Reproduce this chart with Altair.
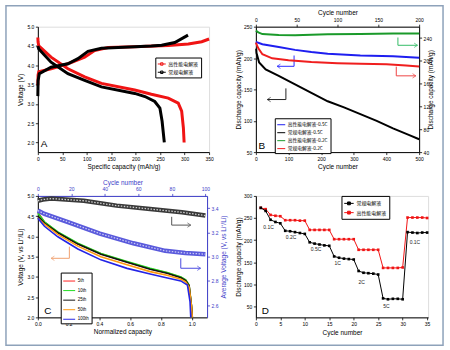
import altair as alt
import pandas as pd

FONT = "Liberation Sans"
CJK = "Noto Sans CJK SC"

# ---------------- Panel A : charge / discharge profiles ----------------
a_names = ["高性能电解液", "常规电解液"]
a_colors = ["#f01414", "#000000"]
a_red_chg_cap = [0, 0.5, 2, 27, 61.5, 95.7, 116, 143.6, 198, 266.6, 307.6, 335, 350]
a_red_chg_v = [3.48, 3.75, 3.83, 3.91, 4.04, 4.21, 4.38, 4.46, 4.48, 4.51, 4.55, 4.61, 4.68]
a_red_dis_cap = [0, 0.5, 2, 27, 61.5, 95.7, 130, 198, 232, 266.6, 287, 294, 297.5, 299]
a_red_dis_v = [4.72, 4.6, 4.5, 4.21, 3.91, 3.70, 3.53, 3.36, 3.25, 3.15, 3.02, 2.81, 2.38, 2.0]
a_blk_chg_cap = [0, 0.5, 3, 27, 61.5, 82, 102.5, 130, 198, 232, 253, 280, 307]
a_blk_chg_v = [3.2, 3.6, 3.78, 3.95, 4.04, 4.17, 4.36, 4.44, 4.48, 4.5, 4.52, 4.59, 4.78]
a_blk_dis_cap = [0, 2, 27, 61.5, 95.7, 130, 198, 219, 239, 249.5, 254, 258.5]
a_blk_dis_v = [4.5, 4.42, 4.08, 3.78, 3.61, 3.44, 3.27, 3.19, 3.06, 2.89, 2.55, 2.0]

# ---------------- Panel B : cycling ----------------
b_names = ["高性能电解液-0.5C", "常规电解液-0.5C", "高性能电解液-0.2C", "常规电解液-0.2C"]
b_colors = ["#1e1ef0", "#000000", "#1a9a2a", "#f01e1e"]
b_blue_cyc = [0, 20, 70, 120, 170, 220, 320, 420, 500]
b_blue_cap = [225.7, 222, 217.6, 213, 209.5, 206.8, 204, 203, 200.5]
b_black_cyc = [1, 2, 10, 30, 70, 120, 170, 220, 270, 320, 370, 420, 470, 500]
b_black_cap = [215, 208, 193, 182, 171.6, 158, 144.6, 131, 121.4, 110.5, 99.7, 87.8, 77, 70.5]
b_green_cyc = [0, 3, 8, 28, 48, 88, 128, 168, 200]
b_green_cap = [253, 250, 247, 245.3, 245, 246.5, 247, 248, 248]
b_red_cyc = [0, 3, 8, 20, 40, 68, 100, 128, 160, 184, 200]
b_red_cap = [232, 222, 211.6, 204.5, 201, 198, 196, 195, 194, 192, 190]
b_arrow_x = [[117, 117, 65], [92, 92, 35], [435, 435, 495], [430, 430, 490]]
b_arrow_y = [[204, 186.8, 186.8], [151.6, 133.8, 133.8], [232.7, 220.3, 220.3], [186.2, 171.6, 171.6]]
b_arrow_col = ["#2a2aff", "#222222", "#33bb66", "#ee4444"]
b_arrow_dir = ["left", "left", "right", "right"]

# ---------------- Panel C : discharge curves + average voltage ----------------
c_names = ["5th", "10th", "25th", "50th", "100th"]
c_colors = ["#ff2020", "#22dd22", "#111111", "#ff9a10", "#2424e6"]
c_x_std = [0, 0.043, 0.13, 0.26, 0.41, 0.58, 0.73, 0.84, 0.93, 0.961, 0.983, 0.998, 1.004]
c_5th = [4.6, 4.35, 4.10, 3.82, 3.57, 3.37, 3.20, 3.10, 2.99, 2.92, 2.79, 2.30, 2.0]
c_10th = [4.57, 4.36, 4.11, 3.83, 3.58, 3.38, 3.21, 3.11, 3.0, 2.93, 2.80, 2.31, 2.0]
c_25th = [4.5, 4.33, 4.09, 3.81, 3.56, 3.36, 3.19, 3.09, 2.98, 2.91, 2.78, 2.30, 2.0]
c_50th = [4.45, 4.3, 4.05, 3.76, 3.50, 3.30, 3.13, 3.04, 2.94, 2.88, 2.75, 2.30, 2.0]
c_x_100 = [0, 0.043, 0.13, 0.26, 0.41, 0.58, 0.73, 0.842, 0.929, 0.972, 0.989, 0.994]
c_100th = [4.45, 4.25, 3.99, 3.69, 3.42, 3.21, 3.07, 2.97, 2.90, 2.80, 2.39, 2.0]
c_avg_blk_cyc = [0, 3, 8, 27.5, 47, 67, 86, 100]
c_avg_blk_v = [3.46, 3.47, 3.478, 3.46, 3.42, 3.392, 3.365, 3.338]
c_avg_blu_cyc = [0, 4, 18, 37, 57, 76, 88, 100]
c_avg_blu_v = [3.379, 3.352, 3.285, 3.19, 3.11, 3.048, 3.03, 3.02]
c_arrow_x = [[0.87, 0.87, 0.994], [0.929, 0.929, 1.058], [0.205, 0.205, 0.086]]
c_arrow_y = [[4.484, 4.279, 4.279], [3.459, 3.213, 3.213], [3.746, 3.459, 3.459]]
c_arrow_col = ["#555555", "#4a4ae0", "#f0a070"]
c_arrow_dir = ["right", "right", "left"]

# ---------------- Panel D : rate capability ----------------
d_names = ["常规电解液", "高性能电解液"]
d_colors = ["#000000", "#f01414"]
d_cycles = list(range(1, 36))
d_black = [273, 266, 246, 241, 238, 221, 220, 218, 216, 214, 195, 192, 190, 188, 187,
           163, 160, 158, 157, 156, 130, 126, 125, 124, 122, 68, 66, 67, 67, 66,
           218, 217, 216, 217, 217]
d_red = [273, 270, 257, 255, 254, 245, 245, 245, 244, 244, 223, 223, 223, 223, 223,
         202, 202, 202, 202, 202, 178, 178, 178, 178, 178, 137, 137, 137, 137, 138,
         251, 251, 251, 251, 250]
d_rate_text = ["0.1C", "0.2C", "0.5C", "1C", "2C", "5C", "0.1C"]
d_rate_x = [2.6, 7.2, 12.3, 16.7, 21.6, 26.7, 32.5]
d_rate_y = [229, 206, 180, 147, 105, 51.5, 195.5]

LEFT_HEAD = "M 0 0 L 1 -0.65 M 0 0 L 1 0.65"
RIGHT_HEAD = "M 0 0 L -1 -0.65 M 0 0 L -1 0.65"
LEG_SYM = "M -1 0 L 1 0 M -0.3 -0.3 L 0.3 -0.3 L 0.3 0.3 L -0.3 0.3 Z"
LEG_LINE = "M -1 0 L 1 0"


def axis(orient, values, title, fmt=None, color="black", tpad=2, angle=None):
    kw = dict(orient=orient, values=values, title=title, domainColor=color, tickColor=color,
              labelColor=color, titleColor=color, labelFont=FONT, titleFont=FONT,
              labelFontSize=5, titleFontSize=6.5, titleFontWeight="normal", tickSize=2.5,
              tickWidth=0.8, domainWidth=1, labelPadding=1.5, titlePadding=tpad, grid=False,
              labelOverlap=False, labelFlush=False)
    if fmt:
        kw["format"] = fmt
    if angle is not None:
        kw["titleAngle"] = angle
    return alt.Axis(**kw)


def seq(xs, ys, name, part):
    return pd.DataFrame({"x": xs, "y": ys, "s": name, "part": part, "i": list(range(len(xs)))})


def legend(x, y, sym=LEG_LINE, size=60, fs=5, font=CJK, rowpad=0.3):
    return alt.Legend(orient="none", legendX=x, legendY=y, title=None, symbolType=sym,
                      symbolSize=size, symbolStrokeWidth=1, labelFontSize=fs, labelFont=font,
                      strokeColor="black", fillColor="white", padding=2, rowPadding=rowpad,
                      labelOffset=2, labelLimit=200)


def arrows(xs_list, ys_list, cols, dirs, ex, ey):
    rows, heads = [], []
    for k, (xs, ys, c, d) in enumerate(zip(xs_list, ys_list, cols, dirs)):
        for i, (x, y) in enumerate(zip(xs, ys)):
            rows.append({"x": x, "y": y, "id": k, "i": i, "c": c})
        heads.append({"x": xs[-1], "y": ys[-1], "c": c,
                      "shp": LEFT_HEAD if d == "left" else RIGHT_HEAD})
    ln = alt.Chart(pd.DataFrame(rows)).mark_line(strokeWidth=1).encode(
        x=ex, y=ey, detail="id:N", order="i:Q", stroke=alt.Stroke("c:N", scale=None))
    hd = alt.Chart(pd.DataFrame(heads)).mark_point(filled=False, size=45, strokeWidth=1).encode(
        x=ex, y=ey, stroke=alt.Stroke("c:N", scale=None), shape=alt.Shape("shp:N", scale=None))
    return [ln, hd]


def label(ch, x, y, ex, ey, fs=10):
    return alt.Chart(pd.DataFrame({"x": [x], "y": [y], "t": [ch]})).mark_text(
        align="left", baseline="middle", fontSize=fs, font=FONT, color="black").encode(
        x=ex, y=ey, text="t:N")


# ====== Panel A ======
a_df = pd.concat([
    seq(a_red_chg_cap, a_red_chg_v, a_names[0], "rc"),
    seq(a_red_dis_cap, a_red_dis_v, a_names[0], "rd"),
    seq(a_blk_chg_cap, a_blk_chg_v, a_names[1], "bc"),
    seq(a_blk_dis_cap, a_blk_dis_v, a_names[1], "bd"),
])
xa = alt.X("x:Q", scale=alt.Scale(domain=[0, 350], nice=False, zero=False),
           axis=axis("bottom", list(range(0, 351, 50)), "Specific capacity (mAh/g)", tpad=2))
ya = alt.Y("y:Q", scale=alt.Scale(domain=[1.75, 5.0], nice=False, zero=False),
           axis=axis("left", [2.0, 2.5, 3.0, 3.5, 4.0, 4.5, 5.0], "Voltage (V)", fmt=".1f", tpad=3))
ca = alt.Color("s:N", scale=alt.Scale(domain=a_names, range=a_colors),
               legend=legend(118, 31, sym=LEG_SYM, size=64))
a_red = alt.Chart(a_df).transform_filter(alt.datum.s == a_names[0]).mark_line(strokeWidth=3).encode(
    x=xa, y=ya, color=ca, detail="part:N", order="i:Q")
a_blk = alt.Chart(a_df).transform_filter(alt.datum.s == a_names[1]).mark_line(strokeWidth=3).encode(
    x=xa, y=ya, color=ca, detail="part:N", order="i:Q")
frame = alt.Chart(pd.DataFrame({"k": [0]})).mark_rect(
    fillOpacity=0, stroke="#8ea2ba", strokeWidth=1.5).encode(
    x=alt.value(-32), x2=alt.value(407), y=alt.value(-21), y2=alt.value(320))
panel_a = alt.layer(a_red, a_blk, label("A", 6, 1.95, xa, ya), frame).properties(width=172, height=126)

# ====== Panel B ======
xb = alt.X("x:Q", scale=alt.Scale(domain=[0, 500], nice=False, zero=False),
           axis=axis("bottom", list(range(0, 501, 100)), "Cycle number", tpad=2))
yb = alt.Y("y:Q", scale=alt.Scale(domain=[50, 250], nice=False, zero=False),
           axis=axis("left", list(range(50, 251, 50)), "Discharge capacity (mAh/g)", tpad=2))
xb2 = alt.X("x:Q", scale=alt.Scale(domain=[0, 200], nice=False, zero=False),
            axis=axis("top", list(range(0, 201, 50)), "Cycle number", tpad=2))
yb2 = alt.Y("y:Q", scale=alt.Scale(domain=[40, 260], nice=False, zero=False),
            axis=axis("right", list(range(40, 241, 40)), "Discharge capacity (mAh/g)", tpad=2, angle=270))
cb = alt.Color("s:N", scale=alt.Scale(domain=b_names, range=b_colors),
               legend=legend(19, 92, size=64, fs=4.8, rowpad=1))
b_left_df = pd.concat([seq(b_blue_cyc, b_blue_cap, b_names[0], "a"),
                       seq(b_black_cyc, b_black_cap, b_names[1], "b")])
b_right_df = pd.concat([seq(b_green_cyc, b_green_cap, b_names[2], "c"),
                        seq(b_red_cyc, b_red_cap, b_names[3], "d")])
b_left = alt.Chart(b_left_df).mark_line(strokeWidth=2).encode(x=xb, y=yb, color=cb, order="i:Q")
b_right = alt.Chart(b_right_df).mark_line(strokeWidth=2).encode(x=xb2, y=yb2, color=cb, order="i:Q")
b_left_group = alt.layer(b_left, *arrows(b_arrow_x, b_arrow_y, b_arrow_col, b_arrow_dir, xb, yb),
                         label("B", 8, 60, xb, yb))
panel_b = alt.layer(b_left_group, b_right).resolve_scale(x="independent", y="independent").properties(
    width=164, height=126)

# ====== Panel C ======
xc = alt.X("x:Q", scale=alt.Scale(domain=[0, 1.1], nice=False, zero=False),
           axis=axis("bottom", [0, 0.2, 0.4, 0.6, 0.8, 1.0], "Normalized capacity", fmt=".1f", tpad=2))
yc = alt.Y("y:Q", scale=alt.Scale(domain=[2.0, 5.0], nice=False, zero=False),
           axis=axis("left", [2.0, 2.5, 3.0, 3.5, 4.0, 4.5, 5.0], "Voltage (V, vs Li⁺/Li)", fmt=".1f", tpad=3))
BLUE_AX = "#3c3cc8"
xc2 = alt.X("x:Q", scale=alt.Scale(domain=[0, 101], nice=False, zero=False),
            axis=axis("top", list(range(0, 101, 20)), "Cycle number", color=BLUE_AX, tpad=1))
yc2 = alt.Y("y:Q", scale=alt.Scale(domain=[2.5, 3.5], nice=False, zero=False),
            axis=axis("right", [2.6, 2.8, 3.0, 3.2, 3.4], "Average Voltage (V, vs Li⁺/Li)",
                      fmt=".1f", color=BLUE_AX, tpad=9, angle=270))
cc = alt.Color("s:N", scale=alt.Scale(domain=c_names, range=c_colors),
               legend=legend(23, 77, size=144, fs=4.5, font=FONT, rowpad=0.6))
c_df = pd.concat([seq(c_x_std, c_5th, c_names[0], "1"),
                  seq(c_x_std, c_10th, c_names[1], "2"),
                  seq(c_x_std, c_25th, c_names[2], "3"),
                  seq(c_x_std, c_50th, c_names[3], "4"),
                  seq(c_x_100, c_100th, c_names[4], "5")])
c_layers = [alt.Chart(c_df).transform_filter(alt.datum.s == n).mark_line(strokeWidth=1.6).encode(
    x=xc, y=yc, color=cc, order="i:Q") for n in c_names]
c_avg_df = pd.concat([seq(c_avg_blk_cyc, c_avg_blk_v, "blk", "x"),
                      seq(c_avg_blu_cyc, c_avg_blu_v, "blu", "y")])
c_avg_outer = alt.Chart(c_avg_df).mark_line(strokeWidth=4.5).encode(
    x=xc2, y=yc2, detail="s:N", order="i:Q",
    stroke=alt.Stroke("s:N", scale=alt.Scale(domain=["blk", "blu"], range=["#3a3a3a", "#5a5adc"]), legend=None))
c_avg_inner = alt.Chart(c_avg_df).mark_line(strokeWidth=1.3, strokeDash=[1.5, 1.5]).encode(
    x=xc2, y=yc2, detail="s:N", order="i:Q",
    stroke=alt.Stroke("s:N", scale=alt.Scale(domain=["blk", "blu"], range=["#d0d0d0", "#c8c8f4"]), legend=None))
c_left_group = alt.layer(*c_layers, *arrows(c_arrow_x, c_arrow_y, c_arrow_col, c_arrow_dir, xc, yc),
                         label("C", 0.041, 2.15, xc, yc))
c_right_group = alt.layer(c_avg_outer, c_avg_inner).resolve_scale(stroke="independent")
panel_c = alt.layer(c_left_group, c_right_group).resolve_scale(
    x="independent", y="independent", stroke="independent").properties(width=170, height=122)

# ====== Panel D ======
xd = alt.X("x:Q", scale=alt.Scale(domain=[0, 35.2], nice=False, zero=False),
           axis=axis("bottom", list(range(0, 36, 5)), "Cycle number", tpad=3))
yd = alt.Y("y:Q", scale=alt.Scale(domain=[25, 300], nice=False, zero=False),
           axis=axis("left", list(range(50, 301, 50)), "Discharge capacity (mAh/g)", tpad=2))
cd = alt.Color("s:N", scale=alt.Scale(domain=d_names, range=d_colors),
               legend=legend(86, 0, sym=LEG_SYM, size=90))
d_df = pd.concat([seq(d_cycles, d_black, d_names[0], "k"), seq(d_cycles, d_red, d_names[1], "r")])
d_layers = [alt.Chart(d_df).transform_filter(alt.datum.s == n).mark_line(
    strokeWidth=1, point=alt.OverlayMarkDef(shape="square", size=7, filled=True)).encode(
    x=xd, y=yd, color=cd, order="i:Q") for n in [d_names[1], d_names[0]]]
d_rates = alt.Chart(pd.DataFrame({"x": d_rate_x, "y": d_rate_y, "t": d_rate_text})).mark_text(
    fontSize=5, font=FONT, color="#222").encode(x=xd, y=yd, text="t:N")
panel_d = alt.layer(*d_layers, d_rates, label("D", 1.2, 40, xd, yd)).properties(width=173, height=122)

chart = alt.concat(panel_a, panel_b, panel_c, panel_d, columns=2,
                   spacing={"row": 44, "column": 47}, bounds="flush").resolve_scale(
    color="independent", stroke="independent", shape="independent").properties(
    padding={"left": 4, "top": 3, "right": 5, "bottom": 4}
).configure_view(stroke="black", strokeWidth=1).configure(font=FONT, background="white")

chart.save("out.html", embed_options={"renderer": "svg", "actions": False})
